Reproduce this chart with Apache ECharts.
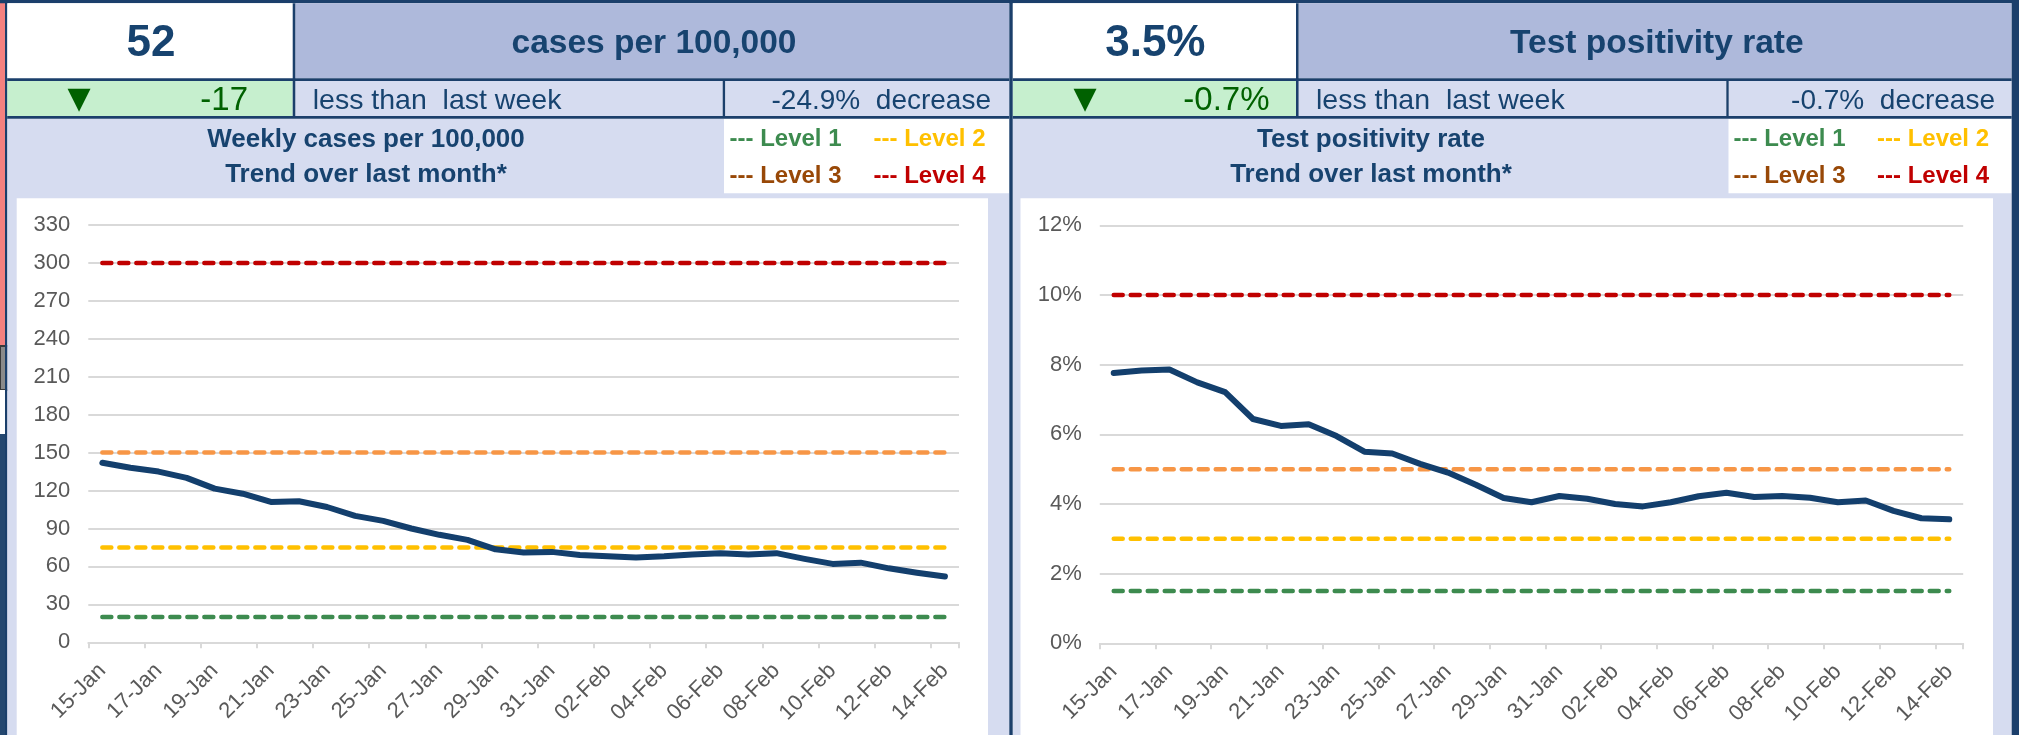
<!DOCTYPE html>
<html>
<head>
<meta charset="utf-8">
<script src="https://cdn.jsdelivr.net/npm/echarts@6/dist/echarts.min.js"></script>
<style>
html,body{margin:0;padding:0;background:#ffffff;}
#c{width:2030px;height:735px;}
</style>
</head>
<body>
<div id="c"></div>
<script>
// ---- data ----
var dates = ['15-Jan','16-Jan','17-Jan','18-Jan','19-Jan','20-Jan','21-Jan','22-Jan','23-Jan','24-Jan','25-Jan','26-Jan','27-Jan','28-Jan','29-Jan','30-Jan','31-Jan','01-Feb','02-Feb','03-Feb','04-Feb','05-Feb','06-Feb','07-Feb','08-Feb','09-Feb','10-Feb','11-Feb','12-Feb','13-Feb','14-Feb'];
var weeklyCases = [142,138,135,130,121.5,117.5,111,111.5,107,100,96,90,85,81,73.5,71,71.5,69,68,67,68,69.5,70.5,69.5,70.5,66,62,63,58.5,55,52];
var positivityRate = [7.76,7.83,7.86,7.49,7.21,6.44,6.24,6.29,5.95,5.50,5.45,5.15,4.90,4.55,4.17,4.05,4.23,4.15,4.00,3.93,4.05,4.22,4.32,4.20,4.23,4.18,4.05,4.10,3.80,3.59,3.56];
var levelNames = ['Level 1','Level 2','Level 3','Level 4'];
var caseLevels = [20, 75, 150, 300];
var positivityLevels = [1.5, 3, 5, 10];
var caseAxis = {min: 0, max: 330, interval: 30};
var positivityAxis = {min: 0, max: 12, interval: 2};
var headline = {
  left: {value: '52', title: 'cases per 100,000', change: '-17', text: 'less than  last week', pct: '-24.9%  decrease',
         chartTitle1: 'Weekly cases per 100,000', chartTitle2: 'Trend over last month*'},
  right: {value: '3.5%', title: 'Test positivity rate', change: '-0.7%', text: 'less than  last week', pct: '-0.7%  decrease',
          chartTitle1: 'Test positivity rate', chartTitle2: 'Trend over last month*'}
};

// ---- styles ----
var NAVY = '#1b3f6b';
var TXT = '#17436f';
var HEAD_BG = '#aeb9db';
var LAV = '#d6dcf0';
var GOOD_BG = '#c6efce';
var GOOD_TX = '#006100';
var lineColors = ['#3d8b4f', '#ffc000', '#f79646', '#c00000'];
var legendColors = ['#3d8b4f', '#ffc000', '#984807', '#c00000'];
var FONT = '"Liberation Sans", Arial, Helvetica, sans-serif';

function rect(x, y, w, h, fill, extra) {
  var r = {type: 'rect', silent: true, shape: {x: x, y: y, width: w, height: h}, style: {fill: fill}};
  if (extra) { for (var k in extra) r[k] = extra[k]; }
  return r;
}
function txt(x, y, s, size, color, weight, align, family) {
  return {type: 'text', silent: true, x: x, y: y, z: 10,
    style: {text: s, fill: color, fontSize: size, fontWeight: weight || 'normal',
            fontFamily: family || FONT, align: align || 'center', verticalAlign: 'middle'}};
}

var g = [];
// background pieces
g.push(rect(0, 0, 2030, 735, '#ffffff'));
// left window edge artefacts
g.push(rect(0, 0, 6, 346, '#f4817f'));
g.push(rect(0, 346, 10, 44, '#8a8a8a', {style: {fill: '#8a8a8a', stroke: '#3a3a3a', lineWidth: 2}}));
g.push(rect(0, 390, 7, 44, '#ffffff'));
g.push(rect(0, 434, 7, 301, '#24476f'));
g.push(rect(5, 0, 2.5, 735, NAVY));
// top border
g.push(rect(0, 0, 2019, 3.3, NAVY));

// panels
function panel(x0, xCell, xMid, xEnd, xLegend, chartX0, chartX1, d, legendX) {
  // row 1
  g.push(rect(x0, 3.3, xCell - x0, 75, '#ffffff'));
  g.push(rect(xCell + 2.6, 3.3, xEnd - xCell - 2.6, 75, HEAD_BG));
  // row 2
  g.push(rect(x0, 81, xCell - x0, 35, GOOD_BG));
  g.push(rect(xCell + 2.6, 81, xMid - xCell - 2.6, 35, LAV));
  g.push(rect(xMid + 2.4, 81, xEnd - xMid - 2.4, 35, LAV));
  // row 3 + chart background
  g.push(rect(x0, 118.7, xEnd - x0, 735 - 118.7, LAV));
  g.push(rect(xLegend, 118.7, xEnd - xLegend, 74.6, '#ffffff'));
  g.push(rect(chartX0, 198.3, chartX1 - chartX0, 735 - 198.3, '#ffffff'));
  // borders
  g.push(rect(xCell, 3.3, 2.6, 113, NAVY));
  g.push(rect(xMid, 81, 2.4, 35, NAVY));
  g.push(rect(x0, 78.3, xEnd - x0, 2.7, NAVY));
  g.push(rect(x0, 116, xEnd - x0, 2.7, NAVY));
  // texts
  g.push(txt((x0 + xCell) / 2 + 1, 43.5, d.value, 44, TXT, 'bold'));
  g.push(txt((xCell + xEnd) / 2 + 3, 43.5, d.title, 33.5, TXT, 'bold'));
  g.push(txt(d.triX, 100, '\u25BC', 30, GOOD_TX, 'normal', 'center', '"DejaVu Sans", sans-serif'));
  g.push(txt(d.changeRight, 101, d.change, 33, GOOD_TX, 'normal', 'right'));
  g.push(txt(xCell + 20, 101, d.text, 28.5, TXT, 'normal', 'left'));
  g.push(txt(d.pctRight, 101, d.pct, 28, TXT, 'normal', 'right'));
  g.push(txt(d.titleX, 139.5, d.chartTitle1, 26, TXT, 'bold'));
  g.push(txt(d.titleX, 174.5, d.chartTitle2, 26, TXT, 'bold'));
  for (var i = 0; i < 4; i++) {
    var lx = legendX[i % 2];
    var ly = i < 2 ? 139.5 : 176;
    g.push(txt(lx, ly, '--- ' + levelNames[i], 24, legendColors[i], 'bold', 'left'));
  }
}
headline.left.triX = 79; headline.left.changeRight = 248; headline.left.pctRight = 991; headline.left.titleX = 366;
headline.right.triX = 1085; headline.right.changeRight = 1269.5; headline.right.pctRight = 1995; headline.right.titleX = 1371;
panel(7.3, 292.7, 722.7, 1009.3, 724, 16.7, 988, headline.left, [729.5, 873.5]);
panel(1012.7, 1296, 1726.3, 2011.7, 1728.5, 1020.5, 1993, headline.right, [1733.5, 1877]);
// vertical separators
g.push(rect(1009.3, 0, 3.4, 735, NAVY));
g.push(rect(2011.7, 0, 7.3, 735, NAVY));

function levelSeries(levels, axisIdx) {
  return levels.map(function (v, i) {
    return {
      name: levelNames[i], type: 'line', xAxisIndex: axisIdx, yAxisIndex: axisIdx,
      data: dates.map(function () { return v; }),
      symbol: 'none', silent: true, z: 2,
      lineStyle: {color: lineColors[i], width: 4.5, type: [9, 8], cap: 'round'}
    };
  });
}

var axisLabelStyle = {color: '#595959', fontSize: 22, fontFamily: FONT};
function xAxis(idx) {
  return {
    type: 'category', gridIndex: idx, data: dates, boundaryGap: true,
    axisLine: {lineStyle: {color: '#d9d9d9', width: 2}},
    axisTick: {show: true, interval: 1, length: 6, lineStyle: {color: '#d9d9d9', width: 2}},
    axisLabel: Object.assign({interval: 1, rotate: 45, margin: 25}, axisLabelStyle),
    splitLine: {show: false}
  };
}
function yAxis(idx, ax, fmt) {
  return {
    type: 'value', gridIndex: idx, min: ax.min, max: ax.max, interval: ax.interval,
    axisLine: {show: false}, axisTick: {show: false},
    axisLabel: Object.assign({margin: 18, formatter: fmt}, axisLabelStyle),
    splitLine: {lineStyle: {color: '#d9d9d9', width: 2}}
  };
}

var option = {
  animation: false,
  backgroundColor: 'transparent',
  graphic: {elements: g},
  grid: [
    {left: 88.3, top: 225, width: 870.7, height: 417.3, containLabel: false},
    {left: 1099.8, top: 225.3, width: 863.4, height: 418, containLabel: false}
  ],
  xAxis: [xAxis(0), xAxis(1)],
  yAxis: [yAxis(0, caseAxis, '{value}'), yAxis(1, positivityAxis, '{value}%')],
  series: [].concat(
    levelSeries(caseLevels, 0),
    [{name: 'Weekly cases per 100,000', type: 'line', xAxisIndex: 0, yAxisIndex: 0, data: weeklyCases,
      symbol: 'none', z: 5, lineStyle: {color: '#133f6d', width: 6, cap: 'round', join: 'round'}}],
    levelSeries(positivityLevels, 1),
    [{name: 'Test positivity rate', type: 'line', xAxisIndex: 1, yAxisIndex: 1, data: positivityRate,
      symbol: 'none', z: 5, lineStyle: {color: '#133f6d', width: 6, cap: 'round', join: 'round'}}]
  )
};

var chart = echarts.init(document.getElementById('c'), null, {renderer: 'canvas'});
chart.setOption(option);
</script>
</body>
</html>
